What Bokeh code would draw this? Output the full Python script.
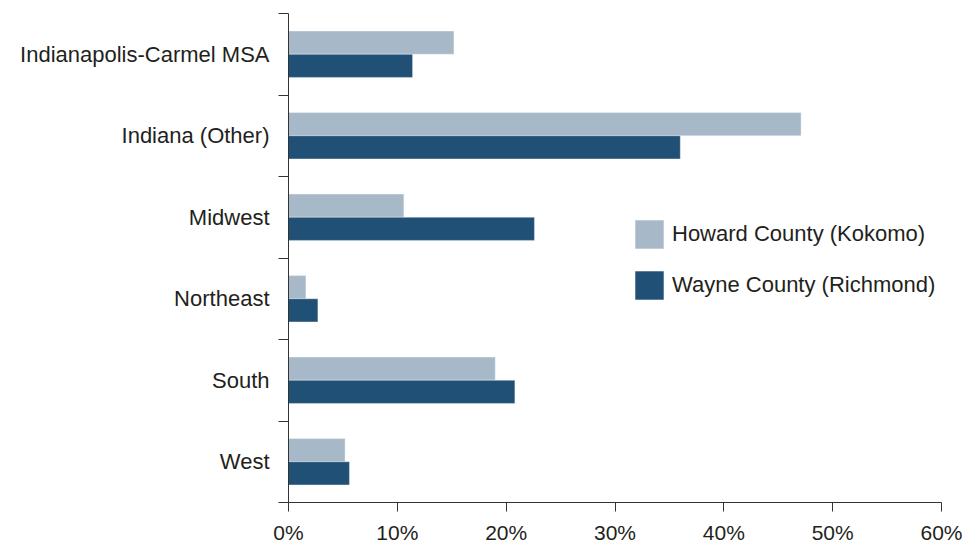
from bokeh.plotting import figure
from bokeh.models import (Range1d, FixedTicker, PrintfTickFormatter, Legend, LegendItem,
                          ColumnDataSource)
from bokeh.transform import dodge
from bokeh.embed import file_html
from bokeh.resources import INLINE

categories = ["Indianapolis-Carmel MSA", "Indiana (Other)", "Midwest", "Northeast", "South", "West"]
howard = [15.2, 47.1, 10.6, 1.6, 19.0, 5.2]
wayne = [11.4, 36.0, 22.6, 2.7, 20.8, 5.6]
series_names = ["Howard County (Kokomo)", "Wayne County (Richmond)"]
x_ticks = [0, 10, 20, 30, 40, 50, 60]

LIGHT = "#a7b9c8"
DARK = "#215077"
TEXT = "#231f20"
FONT = "Liberation Sans"

n = len(categories)
ypos = [n - i - 0.5 for i in range(n)]
src = ColumnDataSource(dict(cat=categories, y=ypos, howard=howard, wayne=wayne))

p = figure(width=975, height=546, output_backend="svg", toolbar_location=None,
           x_range=Range1d(0, 60), y_range=Range1d(0, n),
           min_border_left=288, min_border_right=34, min_border_top=13, min_border_bottom=40)
p.outline_line_color = None
p.background_fill_color = "white"
p.xgrid.visible = False
p.ygrid.visible = False

bh = 0.284
r1 = p.hbar(y=dodge("y", bh / 2, range=p.y_range), right="howard", left=0, height=bh,
            source=src, fill_color=LIGHT, line_color="white", line_alpha=0.35, line_width=1)
r2 = p.hbar(y=dodge("y", -bh / 2, range=p.y_range), right="wayne", left=0, height=bh,
            source=src, fill_color=DARK, line_color="white", line_alpha=0.35, line_width=1)

# x axis
xa = p.xaxis[0]
xa.ticker = FixedTicker(ticks=x_ticks, minor_ticks=[])
xa.formatter = PrintfTickFormatter(format="%d%%")
xa.axis_line_color = "#333333"
xa.major_tick_line_color = "#333333"
xa.major_tick_out = 9
xa.major_tick_in = 0
xa.minor_tick_line_color = None
xa.major_label_text_font = FONT
xa.major_label_text_font_size = "21px"
xa.major_label_text_color = TEXT
xa.major_label_standoff = 9

# y axis: labels at band centres, ticks at band boundaries
ya = p.yaxis[0]
ya.ticker = FixedTicker(ticks=ypos, minor_ticks=list(range(n + 1)))
ya.major_label_overrides = {y: c for y, c in zip(ypos, categories)}
ya.axis_line_color = "#333333"
ya.major_tick_line_color = None
ya.major_tick_out = 10
ya.major_tick_in = 0
ya.minor_tick_line_color = "#333333"
ya.minor_tick_out = 10
ya.minor_tick_in = 0
ya.major_label_text_font = FONT
ya.major_label_text_font_size = "22px"
ya.major_label_text_color = TEXT
ya.major_label_standoff = 9

legend = Legend(items=[LegendItem(label=series_names[0], renderers=[r1]),
                       LegendItem(label=series_names[1], renderers=[r2])],
                location=(343, 199), orientation="vertical",
                glyph_width=36, glyph_height=36, label_standoff=5, spacing=15,
                padding=0, margin=0, border_line_color=None, background_fill_alpha=0,
                label_text_font=FONT, label_text_font_size="22px", label_text_color=TEXT,
                label_height=36)
p.add_layout(legend, "center")

open("out.html", "w").write(file_html(p, INLINE))
